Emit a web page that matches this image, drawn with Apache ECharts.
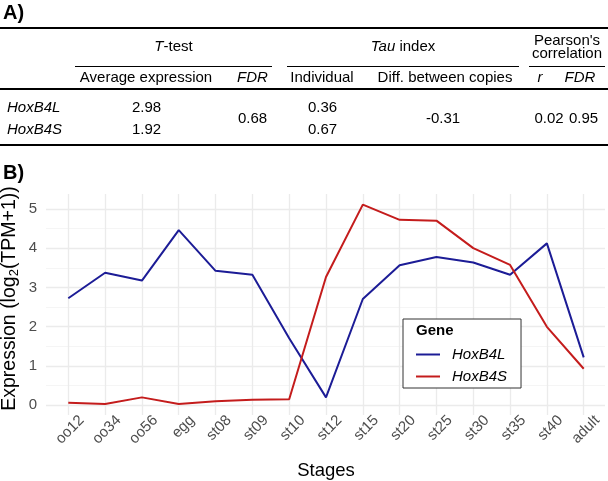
<!DOCTYPE html>
<html>
<head>
<meta charset="utf-8">
<script src="https://cdn.jsdelivr.net/npm/echarts@6/dist/echarts.min.js"></script>
<style>
  html, body { margin: 0; padding: 0; background: #fff; }
  #main { width: 608px; height: 481px; }
</style>
</head>
<body>
<div id="main"></div>
<script>
// ---- chart data (panel B) ----
const stages = ['oo12', 'oo34', 'oo56', 'egg', 'st08', 'st09', 'st10', 'st12', 'st15', 'st20', 'st25', 'st30', 'st35', 'st40', 'adult'];
const hoxB4L = [2.72, 3.37, 3.17, 4.46, 3.42, 3.32, 1.70, 0.19, 2.70, 3.56, 3.77, 3.63, 3.32, 4.12, 1.21];
const hoxB4S = [0.05, 0.02, 0.19, 0.02, 0.09, 0.13, 0.14, 3.26, 5.11, 4.72, 4.70, 4.00, 3.57, 1.99, 0.92];
const yTicks = [0, 1, 2, 3, 4, 5];

// ---- table data (panel A) ----
const tableGenes = ['HoxB4L', 'HoxB4S'];
const tTestAverage = ['2.98', '1.92'];
const tTestFdr = '0.68';
const tauIndividual = ['0.36', '0.67'];
const tauDiff = '-0.31';
const pearsonR = '0.02';
const pearsonFdr = '0.95';

const FONT = '"Liberation Sans", Arial, Helvetica, sans-serif';
const BLUE = '#1c1c96';
const RED = '#c41c1c';
const GRID = '#ebebeb';

const chart = echarts.init(document.getElementById('main'));

const base = { fontFamily: FONT, fontSize: 15, fill: '#000' };
const rich = {
  n: Object.assign({}, base),
  i: Object.assign({}, base, { fontStyle: 'italic' })
};

function txt(x, y, text, extra) {
  return {
    type: 'text', x: x, y: y, z: 100,
    style: Object.assign({ text: text, align: 'center', verticalAlign: 'middle', rich: rich }, base, extra || {})
  };
}
function hline(x1, x2, y, w) {
  return { type: 'line', z: 100, shape: { x1: x1, y1: y, x2: x2, y2: y }, style: { stroke: '#000', lineWidth: w } };
}

const rowY = [107.5, 129.5];
const midY = 118.5;

const table = [
  txt(3, 13, 'A)', { align: 'left', fontWeight: 'bold', fontSize: 20 }),
  txt(3, 173, 'B)', { align: 'left', fontWeight: 'bold', fontSize: 20 }),
  hline(0, 608, 28, 2),
  txt(173.5, 47, '{i|T}{n|-test}'),
  txt(403, 47, '{i|Tau}{n| index}'),
  txt(567, 40.5, "Pearson's"),
  txt(567, 53.5, 'correlation'),
  hline(75, 272, 66.5, 1.2),
  hline(287, 519, 66.5, 1.2),
  hline(529, 605, 66.5, 1.2),
  txt(146, 77.5, 'Average expression'),
  txt(252.5, 77.5, 'FDR', { fontStyle: 'italic' }),
  txt(322, 77.5, 'Individual'),
  txt(445, 77.5, 'Diff. between copies'),
  txt(540, 77.5, 'r', { fontStyle: 'italic' }),
  txt(580, 77.5, 'FDR', { fontStyle: 'italic' }),
  hline(0, 608, 89, 1.8),
  txt(252.5, midY, tTestFdr),
  txt(443, midY, tauDiff),
  txt(549, midY, pearsonR),
  txt(583.5, midY, pearsonFdr),
  hline(0, 608, 145, 2),
  txt(416, 331, 'Gene', { align: 'left', fontWeight: 'bold' })
];
tableGenes.forEach(function (g, k) {
  table.push(txt(7, rowY[k], g, { align: 'left', fontStyle: 'italic' }));
  table.push(txt(146.5, rowY[k], tTestAverage[k]));
  table.push(txt(322.5, rowY[k], tauIndividual[k]));
});

const hidden = { axisLine: { show: false }, axisTick: { show: false }, axisLabel: { show: false }, splitLine: { show: false } };

const option = {
  animation: false,
  backgroundColor: '#fff',
  textStyle: { fontFamily: FONT },
  grid: [
    { left: 46, width: 559, top: 209, height: 196, outerBoundsMode: 'none' },      // horizontal grid + y labels
    { left: 68.3, width: 515.4, top: 194, height: 221, outerBoundsMode: 'none' },  // data + vertical grid
    { left: 81.8, width: 515.4, top: 182, height: 233, outerBoundsMode: 'none' }   // rotated x labels + y title
  ],
  xAxis: [
    { gridIndex: 0, type: 'category', data: stages, show: false },
    Object.assign({ gridIndex: 1, type: 'category', data: stages, boundaryGap: false }, hidden, {
      splitLine: { show: true, interval: 0, lineStyle: { color: GRID, width: 1.3 } },
      name: 'Stages', nameLocation: 'middle', nameGap: 46,
      nameTextStyle: { fontFamily: FONT, fontSize: 18.5, color: '#000' }
    }),
    Object.assign({ gridIndex: 2, type: 'category', data: stages, boundaryGap: false }, hidden, {
      axisLabel: { show: true, interval: 0, rotate: 45, margin: 3, fontFamily: FONT, fontSize: 15, color: '#4d4d4d' }
    })
  ],
  yAxis: [
    {
      gridIndex: 0, type: 'value', min: yTicks[0], max: yTicks[yTicks.length - 1], interval: 1,
      axisLine: { show: false }, axisTick: { show: false },
      axisLabel: { margin: 9, fontFamily: FONT, fontSize: 15, color: '#4d4d4d' },
      splitLine: { lineStyle: { color: GRID, width: 1.3 } },
      minorTick: { show: false, splitNumber: 2 },
      minorSplitLine: { show: true, lineStyle: { color: '#f2f2f2', width: 0.8 } }
    },
    { gridIndex: 1, type: 'value', min: -0.26, max: 5.38, show: false },
    Object.assign({ gridIndex: 2, type: 'value', min: 0, max: 1 }, hidden, {
      name: '{a|Expression (log}{s|2}{a|(TPM+1))}', nameLocation: 'middle', nameGap: 61,
      nameTextStyle: {
        rich: {
          a: { fontFamily: FONT, fontSize: 19.5, color: '#000', lineHeight: 22 },
          s: { fontFamily: FONT, fontSize: 13, color: '#000', lineHeight: 22, padding: [10, 0, 0, 0] }
        }
      }
    })
  ],
  legend: {
    orient: 'vertical', left: 403, top: 319,
    padding: [28, 14, 4, 12],
    itemWidth: 24, itemHeight: 18, itemGap: 7,
    borderColor: '#333', borderWidth: 1, backgroundColor: '#fff',
    itemStyle: { opacity: 0 },
    textStyle: { fontFamily: FONT, fontSize: 15, fontStyle: 'italic', color: '#000', padding: [0, 0, 0, 7] },
    data: ['HoxB4L', 'HoxB4S']
  },
  series: [
    { name: 'HoxB4L', type: 'line', xAxisIndex: 1, yAxisIndex: 1, data: hoxB4L, symbol: 'none',
      color: BLUE, lineStyle: { color: BLUE, width: 2 } },
    { name: 'HoxB4S', type: 'line', xAxisIndex: 1, yAxisIndex: 1, data: hoxB4S, symbol: 'none',
      color: RED, lineStyle: { color: RED, width: 2 } }
  ],
  graphic: table
};

chart.setOption(option);
</script>
</body>
</html>
